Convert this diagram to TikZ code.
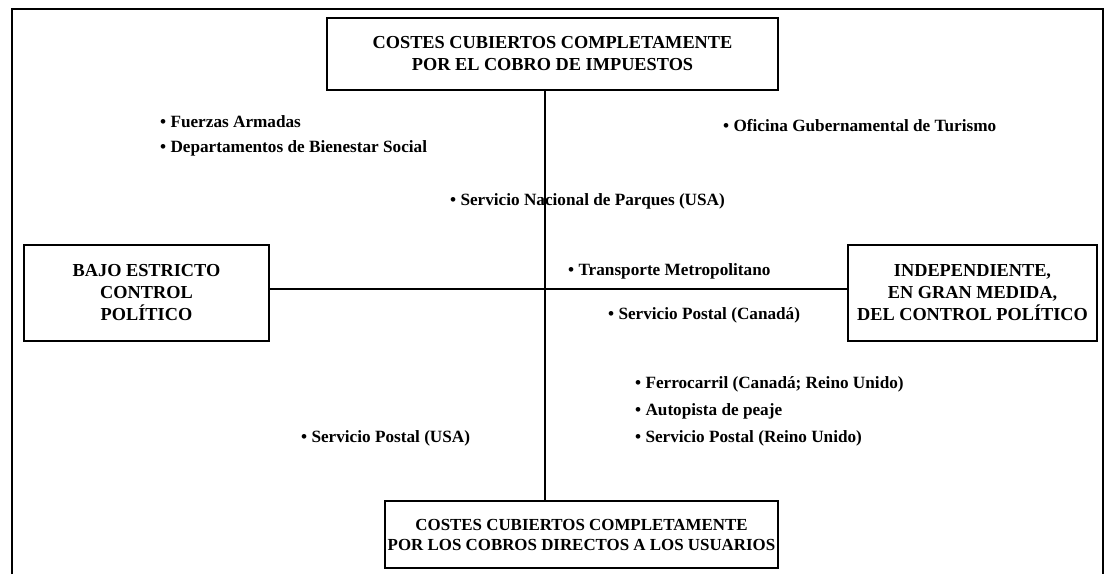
\documentclass[tikz,border=0pt]{standalone}
\usepackage{fontspec}
\setmainfont{Liberation Serif}
\usetikzlibrary{positioning}
\tikzset{catbox/.style = {shape=rectangle,draw,line width=1.6pt,align=center,inner sep=0pt,font=\bfseries\fontsize{18.3}{22}\selectfont}}
\tikzset{item/.style = {anchor=west,inner sep=0pt,font=\bfseries\fontsize{17.2}{20}\selectfont}}
\tikzset{axis/.style = {-,line width=1.6pt}}

\begin{document}
\begin{tikzpicture}[x=1pt,y=-1pt]
\useasboundingbox (0,0) rectangle (1108,574);
% frame
\draw[line width=2.2pt] (12,574) -- (12,9) -- (1103,9) -- (1103,574);
% boxes
\node[catbox,minimum width=451pt,minimum height=72pt] (top) at (552.5,54) {COSTES CUBIERTOS COMPLETAMENTE\\POR EL COBRO DE IMPUESTOS};
\node[catbox,minimum width=245pt,minimum height=96pt] (left) at (146.5,293) {BAJO ESTRICTO\\CONTROL\\POLÍTICO};
\node[catbox,minimum width=249pt,minimum height=96pt] (right) at (972.5,293) {INDEPENDIENTE,\\EN GRAN MEDIDA,\\DEL CONTROL POLÍTICO};
\node[catbox,minimum width=393pt,minimum height=67pt,font=\bfseries\fontsize{16.9}{20}\selectfont] (bottom) at (581.5,534.5) {COSTES CUBIERTOS COMPLETAMENTE\\POR LOS COBROS DIRECTOS A LOS USUARIOS};
% axes
\coordinate (cross) at (545,289);
\draw[axis] (top.south -| cross) -- (bottom.north -| cross);
\draw[axis] (left.east |- cross) -- (right.west |- cross);
% items
\node[item] (fa) at (160,122) {\textbullet\ Fuerzas Armadas};
\node[item] (dbs) at (160,148) {\textbullet\ Departamentos de Bienestar Social};
\node[item] (ogt) at (723,126) {\textbullet\ Oficina Gubernamental de Turismo};
\node[item] (snp) at (450,201) {\textbullet\ Servicio Nacional de Parques (USA)};
\node[item] (tm) at (568,271) {\textbullet\ Transporte Metropolitano};
\node[item] (spc) at (608,315) {\textbullet\ Servicio Postal (Canadá)};
\node[item] (fc) at (635,384) {\textbullet\ Ferrocarril (Canadá; Reino Unido)};
\node[item] (ap) at (635,411) {\textbullet\ Autopista de peaje};
\node[item] (spr) at (635,438) {\textbullet\ Servicio Postal (Reino Unido)};
\node[item] (spu) at (301,438) {\textbullet\ Servicio Postal (USA)};
\end{tikzpicture}
\end{document}
